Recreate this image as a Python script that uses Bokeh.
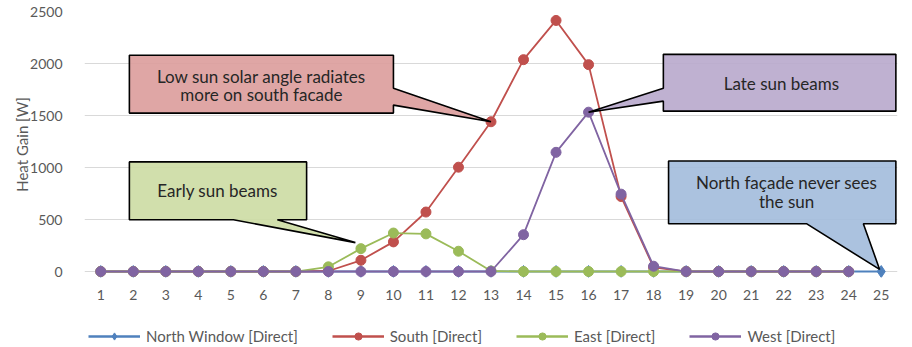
from bokeh.plotting import figure
from bokeh.models import Range1d, Legend, LegendItem, FixedTicker
from bokeh.layouts import column
from bokeh.core.properties import value
from bokeh.embed import file_html
from bokeh.resources import INLINE

# ---- data ----
hours = list(range(1, 26))
hours24 = list(range(1, 25))
north = [0, 0, 0, 0, 0, 0, 0, 0, 0, 0, 0, 0, 0, 0, 0, 0, 0, 0, 0, 0, 0, 0, 0, 0, 0]
south = [0, 0, 0, 0, 0, 0, 0, 5, 108, 285, 572, 1003, 1440, 2037, 2414, 1989, 721, 40, 0, 0, 0, 0, 0, 0]
east = [0, 0, 0, 0, 0, 0, 0, 45, 220, 370, 362, 195, 5, 0, 0, 0, 0, 0, 0, 0, 0, 0, 0, 0]
west = [0, 0, 0, 0, 0, 0, 0, 0, 0, 0, 0, 0, 0, 354, 1146, 1532, 744, 51, 0, 0, 0, 0, 0, 0]
y_ticks = [0, 500, 1000, 1500, 2000, 2500]
series_names = ["North Window [Direct]", "South [Direct]", "East [Direct]", "West [Direct]"]
colors = ["#4F81BD", "#C0504D", "#9BBB59", "#8064A2"]

FONT = "Lato"
GREY = "#595959"

p = figure(width=904, height=302, output_backend="svg", toolbar_location=None,
           x_range=Range1d(0.5, 25.5), y_range=Range1d(-57.5, 2500),
           min_border_left=84, min_border_right=7, min_border_top=11, min_border_bottom=24)
p.outline_line_color = None
p.background_fill_color = "white"
p.border_fill_color = "white"

p.xgrid.grid_line_color = None
p.ygrid.grid_line_color = "#D9D9D9"
p.ygrid.grid_line_width = 1

p.xaxis.ticker = FixedTicker(ticks=hours)
p.yaxis.ticker = FixedTicker(ticks=y_ticks)
for ax in (p.xaxis[0], p.yaxis[0]):
    ax.major_tick_line_color = None
    ax.minor_tick_line_color = None
    ax.axis_line_color = None
    ax.major_label_text_font = FONT
    ax.major_label_text_font_size = "14px"
    ax.major_label_text_color = GREY
p.xaxis.major_label_standoff = 6
p.yaxis.major_label_standoff = 16
p.yaxis.axis_label = "Heat Gain [W]"
p.yaxis.axis_label_text_font = FONT
p.yaxis.axis_label_text_font_size = "15px"
p.yaxis.axis_label_text_font_style = "normal"
p.yaxis.axis_label_text_color = GREY
p.yaxis.axis_label_standoff = -4

# ---- series ----
p.line(hours, north, line_color=colors[0], line_width=2.2)
p.scatter(hours, north, marker="diamond", size=12, fill_color=colors[0], line_color=colors[0])
for ys, c in zip([south, east, west], colors[1:]):
    p.line(hours24, ys, line_color=c, line_width=1.8)
    p.scatter(hours24, ys, marker="circle", size=10, fill_color=c, line_color=c)

# ---- callouts (layout positions in data units) ----
def callout(xs, ys, fill):
    p.patch(xs, ys, fill_color=fill, fill_alpha=0.9, line_color="black", line_width=1.6)

# red: wedge on right edge pointing at South hour 13
rx0, rx1, ry0, ry1 = 1.88, 10.0, 1523, 2079
callout([rx0, rx1, rx1, 13, rx1, rx1, rx0],
        [ry1, ry1, 1762, south[12], 1600, ry0, ry0], "#DB9C9B")
# green: wedge on bottom pointing at East hour 9
gx0, gx1, gy0, gy1 = 1.88, 7.33, 498, 1054
callout([gx0, gx1, gx1, 6.43, 8.83, 5.08, gx0],
        [gy1, gy1, gy0, gy0, 278, gy0, gy0], "#CCDCA3")
# purple: wedge on left edge pointing at West hour 16
px0, px1, py0, py1 = 18.3, 25.45, 1542, 2088
callout([px0, px1, px1, px0, px0, 16, px0],
        [py1, py1, py0, py0, 1638, west[15], 1762], "#B8A8CC")
# blue: wedge on bottom pointing at North hour 25
bx0, bx1, by0, by1 = 18.46, 25.45, 460, 1063
callout([bx0, bx1, bx1, 24.45, 24.95, 22.7, bx0],
        [by1, by1, by0, by0, north[24] + 20, by0, by0], "#A2BBDB")

text_kw = dict(text_font=value(FONT), text_font_size="17px", text_color="#262626",
               text_align="center", text_baseline="middle")
p.text([5.94, 5.94], [1877, 1705], ["Low sun solar angle radiates", "more on south facade"], **text_kw)
p.text([4.59], [776], ["Early sun beams"], **text_kw)
p.text([21.93], [1810], ["Late sun beams"], **text_kw)
p.text([22.09, 22.09], [852, 670], ["North façade never sees", "the sun"], **text_kw)

# ---- legend (separate strip below the chart; series drawn outside its view) ----
pl = figure(width=904, height=43, output_backend="svg", toolbar_location=None,
            x_range=Range1d(-3, -2), y_range=Range1d(-3, -2),
            x_axis_location=None, y_axis_location=None,
            min_border=0, min_border_left=0, min_border_right=0,
            min_border_top=0, min_border_bottom=0)
pl.outline_line_color = None
pl.xgrid.grid_line_color = None
pl.ygrid.grid_line_color = None
items = []
markers = ["diamond", "circle", "circle", "circle"]
mark_sizes = [12, 10, 10, 10]
for name, xs, ys, c, mk, ms in zip(series_names, [hours, hours24, hours24, hours24],
                                   [north, south, east, west], colors, markers, mark_sizes):
    l = pl.line(xs, ys, line_color=c, line_width=2.5)
    m = pl.scatter(xs, ys, marker=mk, size=ms, fill_color=c, line_color=c)
    items.append(LegendItem(label=name, renderers=[l, m]))
legend = Legend(items=items, orientation="horizontal", location=(4, 0),
                glyph_width=52, glyph_height=18, label_standoff=6, spacing=34,
                padding=0, margin=0, border_line_color=None, background_fill_alpha=0,
                label_text_font=FONT, label_text_font_size="15px", label_text_color=GREY)
pl.add_layout(legend, "center")

layout = column(p, pl, spacing=0)
open("out.html", "w").write(file_html(layout, INLINE))
